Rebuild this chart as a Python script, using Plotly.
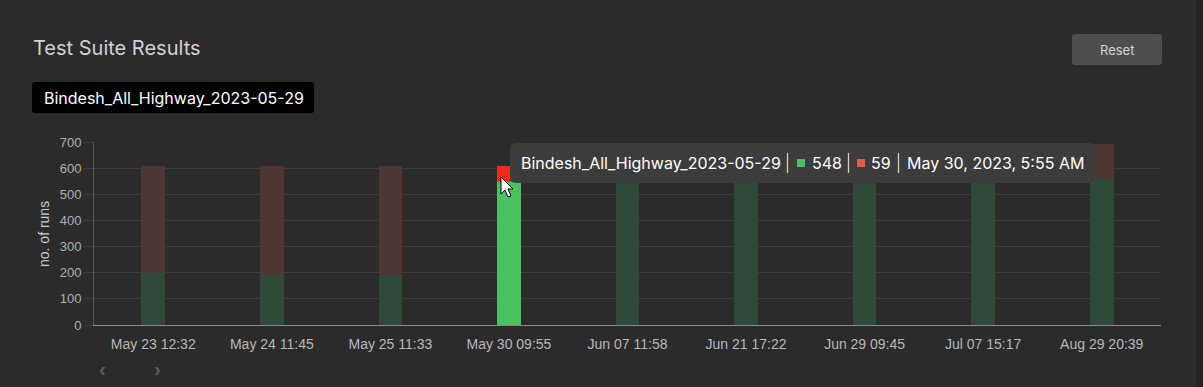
import plotly.graph_objects as go

# ---------------- data ----------------
run_labels = ["May 23 12:32", "May 24 11:45", "May 25 11:33", "May 30 09:55",
              "Jun 07 11:58", "Jun 21 17:22", "Jun 29 09:45", "Jul 07 15:17",
              "Aug 29 20:39"]
passed = [198, 191, 190, 548, 590, 590, 590, 590, 561]
failed = [409, 416, 417, 59, 17, 17, 17, 17, 132]
highlight_index = 3
suite_name = "Bindesh_All_Highway_2023-05-29"
hover_time = "May 30, 2023, 5:55 AM"
y_ticks = [0, 100, 200, 300, 400, 500, 600, 700]

# ---------------- styling ----------------
W, H = 1203, 387
L, R, T, B = 94, 42, 142, 62
PW, PH = W - L - R, H - T - B
BG = "#2b2b2b"
GREEN_DIM, RED_DIM = "#2f4a38", "#4e3733"
GREEN_HI, RED_HI = "#4bc162", "#f2291b"
TIP_GREEN, TIP_RED = "#4bc162", "#e25c48"


def px(x, y):
    return (x - L) / PW, (H - B - y) / PH


def rrect(x0, y0, x1, y1, r):
    def P(x, y):
        a, b = px(x, y)
        return f"{a:.5f},{b:.5f}"
    return (f"M {P(x0 + r, y0)} L {P(x1 - r, y0)} Q {P(x1, y0)} {P(x1, y0 + r)} "
            f"L {P(x1, y1 - r)} Q {P(x1, y1)} {P(x1 - r, y1)} L {P(x0 + r, y1)} "
            f"Q {P(x0, y1)} {P(x0, y1 - r)} L {P(x0, y0 + r)} Q {P(x0, y0)} {P(x0 + r, y0)} Z")


def text_at(x, y, s, size, color, family="Inter", anchor="left", angle=0):
    a, b = px(x, y)
    return dict(x=a, y=b, xref="paper", yref="paper", text=s, showarrow=False,
                xanchor=anchor, yanchor="middle", textangle=angle,
                font=dict(family=family, size=size, color=color))


def rect_px(x0, y0, x1, y1, color, layer="above"):
    a0, b0 = px(x0, y0)
    a1, b1 = px(x1, y1)
    return dict(type="rect", x0=a0, x1=a1, y0=b0, y1=b1, xref="paper", yref="paper",
                fillcolor=color, line=dict(width=0), layer=layer)


def vline_px(x, y0, y1, color):
    a, b0 = px(x, y0)
    _, b1 = px(x, y1)
    return dict(type="line", x0=a, x1=a, y0=b0, y1=b1, xref="paper", yref="paper",
                line=dict(color=color, width=1.3), layer="above")


green_cols = [GREEN_HI if i == highlight_index else GREEN_DIM for i in range(len(run_labels))]
red_cols = [RED_HI if i == highlight_index else RED_DIM for i in range(len(run_labels))]

fig = go.Figure()
fig.add_trace(go.Bar(x=run_labels, y=passed, marker=dict(color=green_cols, line=dict(width=0)),
                     name="passed", hoverinfo="skip"))
fig.add_trace(go.Bar(x=run_labels, y=failed, marker=dict(color=red_cols, line=dict(width=0)),
                     name="failed", hoverinfo="skip"))

shapes = []
annotations = []

# title
annotations.append(text_at(31, 48, "Test Suite Results", 20, "#d2d2d2"))
# reset button
shapes.append(dict(type="path", path=rrect(1072, 34, 1162, 65, 3), xref="paper", yref="paper",
                   fillcolor="#4e4e4e", line=dict(width=0), layer="above"))
annotations.append(text_at(1117, 49.5, "Reset", 13, "#d4d4d4", anchor="center"))
# suite label chip
shapes.append(dict(type="path", path=rrect(32, 82, 314, 113, 3), xref="paper", yref="paper",
                   fillcolor="#000000", line=dict(width=0), layer="above"))
annotations.append(text_at(42, 98, suite_name, 16, "#ffffff"))

# tooltip
shapes.append(dict(type="path", path=rrect(510, 143, 1095, 183, 6), xref="paper", yref="paper",
                   fillcolor="#3c3c3c", line=dict(width=0), layer="above"))
ty = 163
annotations.append(text_at(519, ty, suite_name, 16, "#ffffff"))
shapes.append(vline_px(787.5, 153, 173, "#d8cfae"))
shapes.append(rect_px(797, 159, 805, 167, TIP_GREEN))
annotations.append(text_at(810, ty, str(passed[highlight_index]), 16, "#ffffff"))
shapes.append(vline_px(848.5, 153, 173, "#d8cfae"))
shapes.append(rect_px(857, 159, 865, 167, TIP_RED))
annotations.append(text_at(869, ty, str(failed[highlight_index]), 16, "#ffffff"))
shapes.append(vline_px(898.5, 153, 173, "#d8cfae"))
annotations.append(text_at(905, ty, hover_time, 16, "#ffffff"))

# mouse cursor
cur = [(501, 177), (501, 194), (505, 190), (508, 197), (511, 196), (508, 189), (513, 189)]
cp = " L ".join("{:.5f},{:.5f}".format(*px(x, y)) for x, y in cur)
shapes.append(dict(type="path", path="M " + cp + " Z", xref="paper", yref="paper",
                   fillcolor="#ffffff", line=dict(color="#000000", width=1), layer="above"))

# pager chevrons
for cx, ch in [(102, "‹"), (157, "›")]:
    annotations.append(text_at(cx, 368, f"<b>{ch}</b>", 21, "#5c5c5c",
                               family="Liberation Sans", anchor="center"))

# y-axis title
annotations.append(text_at(44, 234, "no. of runs", 14, "#cfcfcf",
                           family="Liberation Sans", anchor="center", angle=-90))

# right dark strip
shapes.append(rect_px(1196, 0, 1203, 387, "#232323", layer="below"))

fig.update_layout(
    width=W, height=H,
    margin=dict(l=L, r=R, t=T, b=B, pad=0),
    paper_bgcolor=BG, plot_bgcolor=BG,
    barmode="stack", bargap=0.8,
    showlegend=False,
    hovermode=False,
    shapes=shapes, annotations=annotations,
    xaxis=dict(type="category", showgrid=False, showline=True, linecolor="#8a8a8a", linewidth=1,
               ticks="", ticklabelstandoff=6,
               tickfont=dict(family="Liberation Sans", size=14, color="#b8b8b8"),
               zeroline=False, fixedrange=True),
    yaxis=dict(range=[0, 700], tickvals=y_ticks, showgrid=True, gridcolor="#3e3e3e", gridwidth=1,
               ticks="outside", ticklen=9, tickcolor="#3e3e3e", showline=True, linecolor="#555555",
               zeroline=False, tickfont=dict(family="Liberation Sans", size=13, color="#b0b0b0"),
               fixedrange=True),
)

fig.write_html("out.html")
